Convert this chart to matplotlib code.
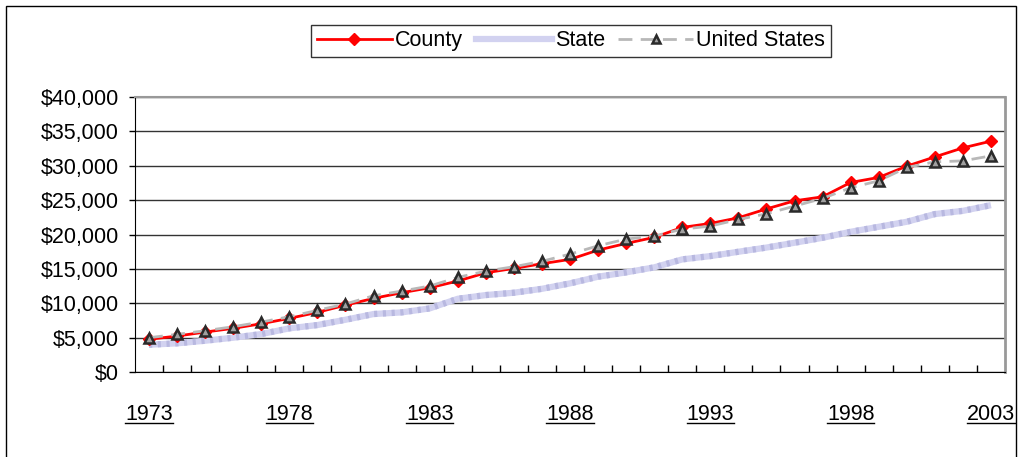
import matplotlib
matplotlib.use("Agg")
import matplotlib.pyplot as plt
from matplotlib.lines import Line2D
from matplotlib.patches import Rectangle
from matplotlib.ticker import FuncFormatter, FixedLocator

years = list(range(1973, 2004))
county = [4750, 5230, 5810, 6350, 7020, 7800, 8680, 9720, 10710, 11530, 12250,
          13230, 14430, 15070, 15750, 16380, 17730, 18700, 19580, 21030, 21610,
          22430, 23720, 24900, 25480, 27570, 28300, 29940, 31290, 32600, 33580]
state = [3970, 4170, 4550, 4990, 5520, 6350, 6830, 7600, 8430, 8670, 9250,
         10650, 11190, 11530, 12100, 12890, 13860, 14490, 15220, 16380, 16860,
         17490, 18100, 18800, 19520, 20390, 21120, 21850, 22970, 23440, 24270]
us = [4990, 5480, 6000, 6590, 7270, 8040, 8970, 9890, 11090, 11770, 12500,
      13760, 14680, 15310, 16100, 17150, 18360, 19330, 19770, 20780, 21220,
      22190, 23010, 24130, 25250, 26790, 27810, 29750, 30570, 30710, 31440]
labeled_years = [1973, 1978, 1983, 1988, 1993, 1998, 2003]
series_names = ["County", "State", "United States"]

plt.rcParams['font.family'] = ['Liberation Sans', 'DejaVu Sans']

W, H = 1023, 457
fig = plt.figure(figsize=(W / 100, H / 100), dpi=100)
ax = fig.add_axes([135 / W, 1 - 372 / H, (1005 - 135) / W, (372 - 97) / H])

x = list(range(len(years)))

# State: thick lavender textured line
ax.plot(x, state, color='#d2d2f0', lw=4.5, solid_capstyle='butt', zorder=3)
ax.plot(x, state, color='#b8b8e0', lw=4.5, dashes=(0.5, 0.9), zorder=3.1)
ax.plot(x, county, color='#ff0000', lw=2, marker='D', ms=6,
        mfc='#ff0000', mec='#ff0000', zorder=4)
ax.plot(x, us, color='#b8b8b8', lw=2, dashes=(5, 3), marker='^', ms=7.5,
        mfc='#a0a0a0', mec='#2a2a2a', mew=1.8, zorder=5)

ax.set_xlim(-0.5, len(years) - 0.5)
ax.set_ylim(0, 40000)
ax.set_yticks(range(0, 40001, 5000))
ax.yaxis.set_major_formatter(FuncFormatter(lambda v, p: '${:,.0f}'.format(v)))
ax.grid(axis='y', color='#333333', lw=1, zorder=1)
ax.set_axisbelow(True)

major_pos = [years.index(y) for y in labeled_years]
ax.set_xticks(major_pos)
ax.set_xticklabels([str(y) for y in labeled_years])
ax.xaxis.set_minor_locator(FixedLocator([i - 0.5 for i in range(1, len(years))]))
ax.tick_params(axis='x', which='major', length=0, pad=23, labelsize=15.5)
ax.tick_params(axis='x', which='minor', length=5, direction='in', width=1)
ax.tick_params(axis='y', length=4.5, width=1, pad=7, labelsize=15.5)

ax.spines['left'].set_color('black')
ax.spines['bottom'].set_color('black')
ax.spines['top'].set_color('#999999')
ax.spines['right'].set_color('#999999')
ax.spines['right'].set_linewidth(2)
ax.spines['top'].set_linewidth(1.5)

# legend
h_county = Line2D([], [], color='#ff0000', lw=2, marker='D', ms=6, mfc='#ff0000', mec='#ff0000')
h_state = Line2D([], [], color='#d2d2f0', lw=4.5)
h_us = Line2D([], [], color='#b8b8b8', lw=2, dashes=(5, 3), marker='^', ms=6,
              mfc='#a0a0a0', mec='#2a2a2a', mew=1.8)
leg = fig.legend([h_county, h_state, h_us], series_names, loc='upper center',
                 bbox_to_anchor=(571 / W, 1 - 25 / H), ncol=3, fontsize=15.5,
                 frameon=True, fancybox=False, edgecolor='black', handlelength=3.5,
                 handletextpad=0.15, columnspacing=0.6, borderpad=0.25,
                 borderaxespad=0, numpoints=1)
leg.get_frame().set_linewidth(1)

# figure border
fig.patches.append(Rectangle((6 / W, -0.05), (1016 - 6) / W, 1.05 - 6 / H,
                             transform=fig.transFigure, fill=False,
                             edgecolor='black', lw=1))

# underline x labels
fig.canvas.draw()
r = fig.canvas.get_renderer()
for lab in ax.get_xticklabels():
    bb = lab.get_window_extent(r)
    yline = bb.y0 + 1.5
    fig.add_artist(Line2D([bb.x0 / W, bb.x1 / W], [yline / H, yline / H],
                          transform=fig.transFigure, color='black', lw=1))

fig.savefig('out.png', dpi=100)
